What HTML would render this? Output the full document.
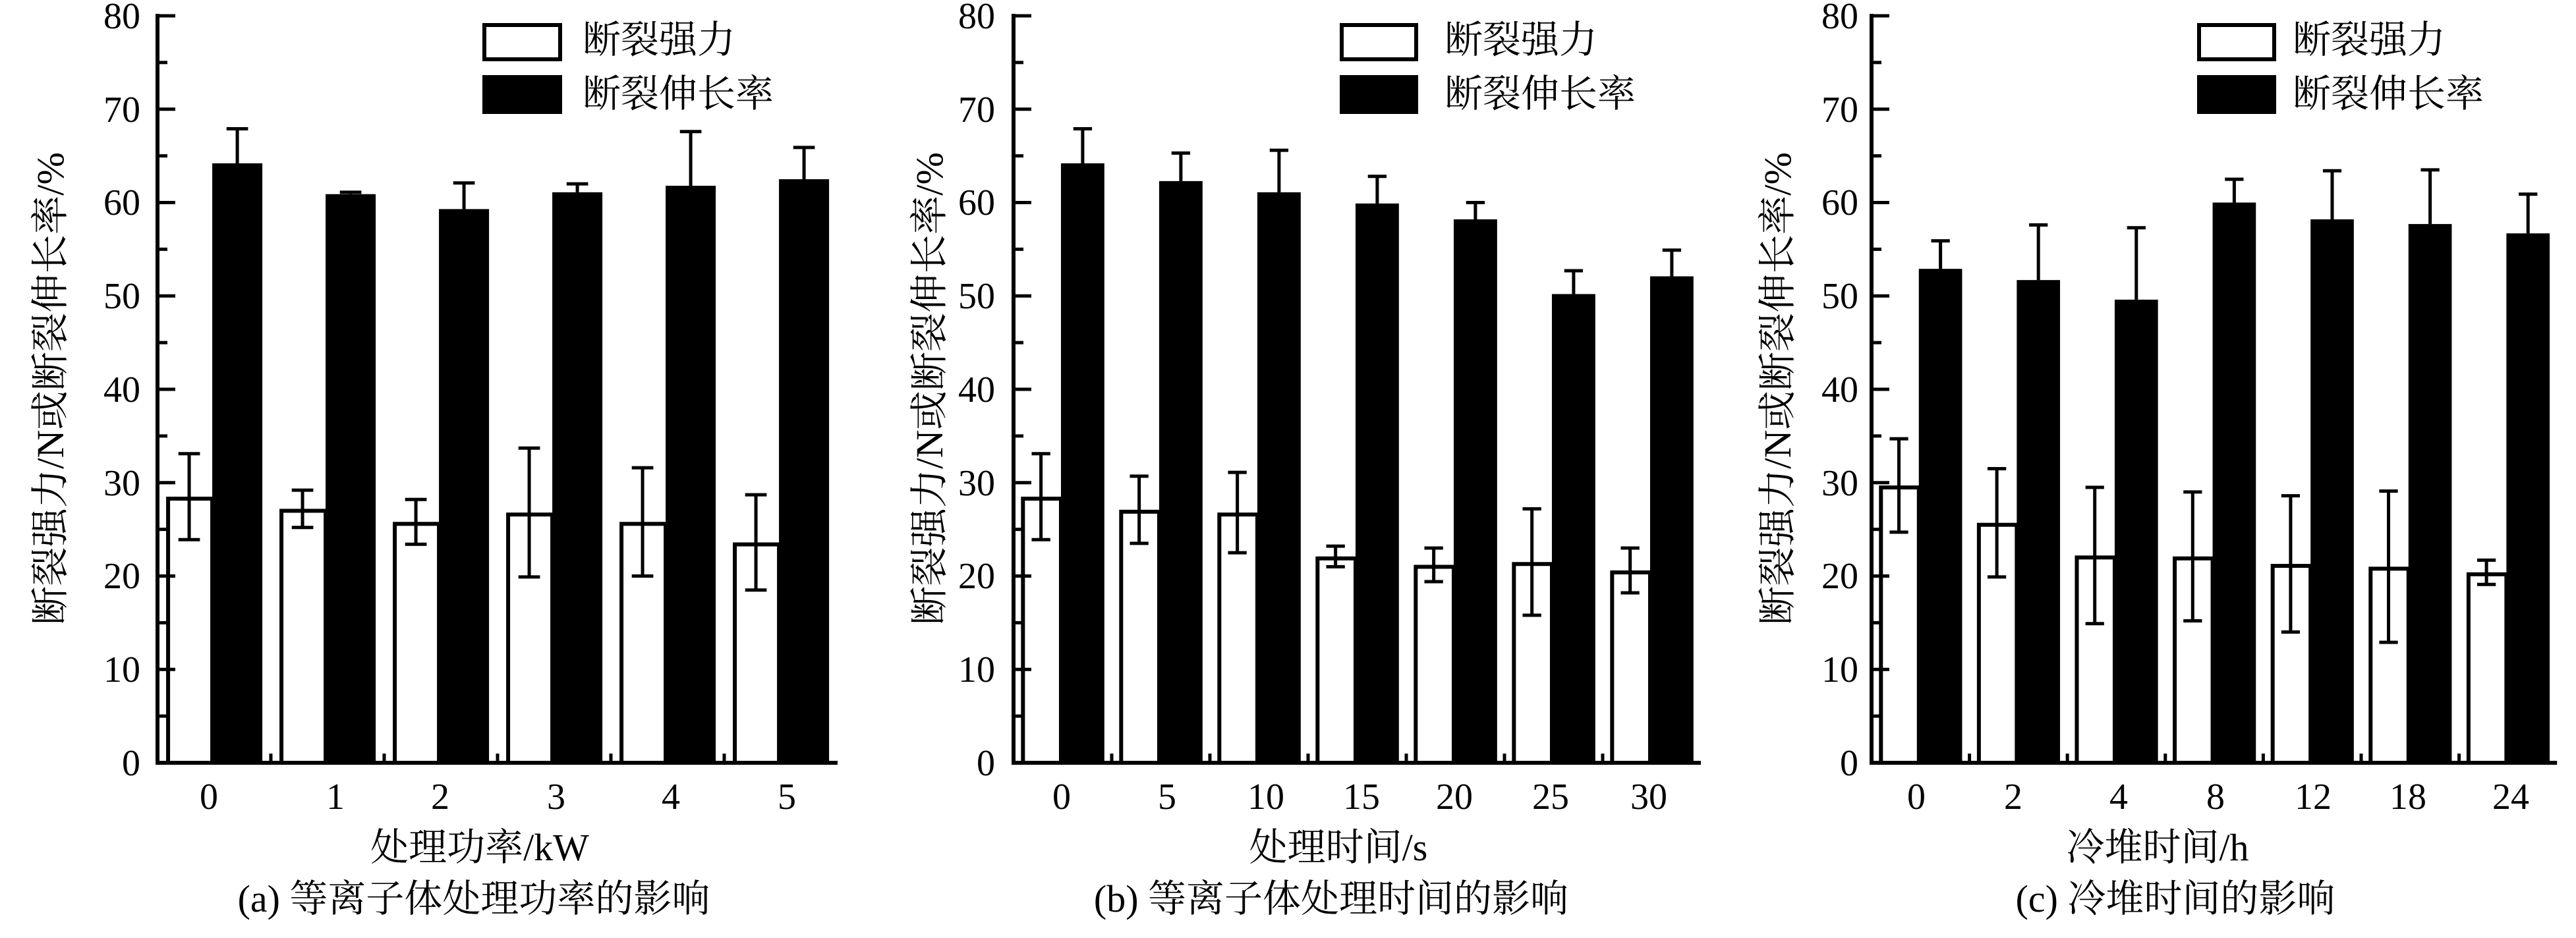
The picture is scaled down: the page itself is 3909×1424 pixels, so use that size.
<!DOCTYPE html>
<html><head><meta charset="utf-8"><style>
html,body{margin:0;padding:0;background:#fff}
svg{display:block}
text{font-family:"Liberation Serif","Noto Serif CJK SC","Noto Sans CJK SC",serif;fill:#000}
</style></head><body>
<svg id="s" width="3909" height="1424" viewBox="0 0 3909 1424" xmlns="http://www.w3.org/2000/svg">
<g id="g"></g>
<g font-size="56" text-anchor="end">
<text x="213" y="1177">0</text><text x="213" y="1035">10</text><text x="213" y="893">20</text><text x="213" y="752">30</text><text x="213" y="610">40</text><text x="213" y="468">50</text><text x="213" y="326">60</text><text x="213" y="185">70</text><text x="213" y="43">80</text>
<text x="1510" y="1177">0</text><text x="1510" y="1035">10</text><text x="1510" y="893">20</text><text x="1510" y="752">30</text><text x="1510" y="610">40</text><text x="1510" y="468">50</text><text x="1510" y="326">60</text><text x="1510" y="185">70</text><text x="1510" y="43">80</text>
<text x="2820" y="1177">0</text><text x="2820" y="1035">10</text><text x="2820" y="893">20</text><text x="2820" y="752">30</text><text x="2820" y="610">40</text><text x="2820" y="468">50</text><text x="2820" y="326">60</text><text x="2820" y="185">70</text><text x="2820" y="43">80</text>
</g>
<g font-size="56" text-anchor="middle">
<text x="317" y="1228">0</text><text x="509" y="1228">1</text><text x="668" y="1228">2</text><text x="844" y="1228">3</text><text x="1018" y="1228">4</text><text x="1194" y="1228">5</text>
<text x="1611" y="1228">0</text><text x="1771" y="1228">5</text><text x="1921" y="1228">10</text><text x="2066" y="1228">15</text><text x="2207" y="1228">20</text><text x="2353" y="1228">25</text><text x="2502" y="1228">30</text>
<text x="2908" y="1228">0</text><text x="3055" y="1228">2</text><text x="3215" y="1228">4</text><text x="3362" y="1228">8</text><text x="3510" y="1228">12</text><text x="3654" y="1228">18</text><text x="3810" y="1228">24</text>
</g>
<g font-size="58" text-anchor="middle">
<text x="728" y="1306">处理功率/kW</text>
<text x="2031" y="1306">处理时间/s</text>
<text x="3274" y="1306">冷堆时间/h</text>
<text x="719" y="1384">(a) 等离子体处理功率的影响</text>
<text x="2020" y="1384">(b) 等离子体处理时间的影响</text>
<text x="3301" y="1384">(c) 冷堆时间的影响</text>
<text transform="translate(96,590) rotate(-90)" textLength="718" lengthAdjust="spacingAndGlyphs">断裂强力/N或断裂伸长率/%</text>
<text transform="translate(1430,590) rotate(-90)" textLength="718" lengthAdjust="spacingAndGlyphs">断裂强力/N或断裂伸长率/%</text>
<text transform="translate(2717,590) rotate(-90)" textLength="718" lengthAdjust="spacingAndGlyphs">断裂强力/N或断裂伸长率/%</text>
</g>
<g font-size="58">
<text x="884" y="80">断裂强力</text><text x="884" y="162">断裂伸长率</text>
<text x="2192" y="80">断裂强力</text><text x="2192" y="162">断裂伸长率</text>
<text x="3479" y="80">断裂强力</text><text x="3479" y="162">断裂伸长率</text>
</g>
<g>
<rect x="735" y="38" width="115" height="52" fill="#fff" stroke="#000" stroke-width="6"/>
<rect x="732" y="114" width="121" height="59" fill="#000"/>
<rect x="2036" y="38" width="113" height="52" fill="#fff" stroke="#000" stroke-width="6"/>
<rect x="2033" y="114" width="119" height="59" fill="#000"/>
<rect x="3337" y="38" width="114" height="52" fill="#fff" stroke="#000" stroke-width="6"/>
<rect x="3334" y="114" width="120" height="59" fill="#000"/>
</g>
</svg>
<script>
(function(){
var NS="http://www.w3.org/2000/svg",g=document.getElementById("g");
function el(n,a){var e=document.createElementNS(NS,n);for(var k in a)e.setAttribute(k,a[k]);g.appendChild(e);}
var y0=1158,K=14.175;function Y(v){return y0-v*K;}
var P=[
{x:239,s:172,w:[[28.5,4.6],[27.2,2],[25.8,2.4],[26.8,6.9],[25.8,5.8],[23.6,5.1]],b:[[64.2,3.7],[60.9,0.2],[59.3,2.8],[61.1,0.9],[61.8,5.8],[62.5,3.4]]},
{x:1538,s:149,w:[[28.5,4.6],[27.1,3.6],[26.8,4.3],[22.1,1.1],[21.2,1.8],[21.5,5.7],[20.6,2.4]],b:[[64.2,3.7],[62.3,3],[61.1,4.5],[59.9,2.9],[58.2,1.8],[50.2,2.5],[52.1,2.8]]},
{x:2840,s:148.6,w:[[29.7,5],[25.7,5.8],[22.2,7.3],[22.1,6.9],[21.3,7.3],[21.0,8.1],[20.4,1.3]],b:[[52.9,3],[51.7,5.9],[49.6,7.7],[60.0,2.5],[58.2,5.2],[57.7,5.8],[56.7,4.2]]}
];
P.forEach(function(p){
 var n=p.w.length,s=p.s,x0=p.x,xe=x0+n*s,cap=s*0.19;
 for(var i=0;i<n;i++){
  var gx=x0+i*s,wl=gx+0.076*s,ww=0.407*s,bw=0.442*s,bl=wl+ww;
  var w=p.w[i],b=p.b[i];
  el("rect",{x:bl,y:Y(b[0]),width:bw,height:y0-Y(b[0]),fill:"#000"});
  el("line",{x1:bl+bw/2,x2:bl+bw/2,y1:Y(b[0]),y2:Y(b[0]+b[1]),stroke:"#000","stroke-width":5});
  el("line",{x1:bl+bw/2-cap/2,x2:bl+bw/2+cap/2,y1:Y(b[0]+b[1]),y2:Y(b[0]+b[1]),stroke:"#000","stroke-width":5});
  el("rect",{x:wl+3,y:Y(w[0])+3,width:ww-3,height:y0-Y(w[0])-3,fill:"#fff",stroke:"#000","stroke-width":6});
  var c=wl+ww/2;
  el("line",{x1:c,x2:c,y1:Y(w[0]-w[1]),y2:Y(w[0]+w[1]),stroke:"#000","stroke-width":5});
  el("line",{x1:c-cap/2,x2:c+cap/2,y1:Y(w[0]+w[1]),y2:Y(w[0]+w[1]),stroke:"#000","stroke-width":5});
  el("line",{x1:c-cap/2,x2:c+cap/2,y1:Y(w[0]-w[1]),y2:Y(w[0]-w[1]),stroke:"#000","stroke-width":5});
  if(i>0)el("line",{x1:gx,x2:gx,y1:y0,y2:y0-14,stroke:"#000","stroke-width":5});
 }
 el("line",{x1:x0,x2:x0,y1:21,y2:y0+3,stroke:"#000","stroke-width":6});
 el("line",{x1:x0-3,x2:xe,y1:y0,y2:y0,stroke:"#000","stroke-width":6});
 for(var v=0;v<=80;v+=5){
  var L=(v%10==0)?27:15;
  el("line",{x1:x0,x2:x0+L,y1:Y(v),y2:Y(v),stroke:"#000","stroke-width":5});
 }
});
})();
</script>
</body></html>
